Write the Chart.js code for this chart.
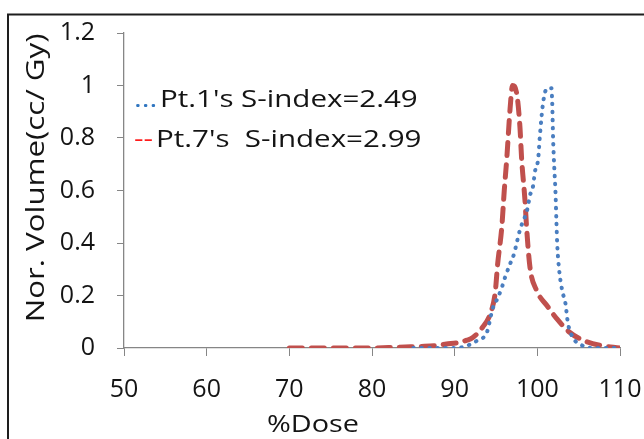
<!DOCTYPE html>
<html>
<head>
<meta charset="utf-8">
<script src="https://cdn.jsdelivr.net/npm/chart.js@4/dist/chart.umd.min.js"></script>
<style>
  html, body { margin: 0; padding: 0; background: #fff; }
  #wrap { width: 644px; height: 439px; }
</style>
</head>
<body>
<div id="wrap"><canvas id="c" width="644" height="439"></canvas></div>
<script>
// Differential dose-volume curves, normalised volume per Gy against % of prescribed dose
const pt1Dose = [85, 88, 90.3, 91.6, 92.8, 93.9, 94.6, 95.2, 95.7, 96.1, 96.7, 97.2, 97.5, 97.9, 98.8, 99.1, 99.5, 99.7, 100.1, 100.3, 100.7, 101.2, 101.7, 101.8, 101.9, 102.0, 102.2, 102.3, 102.4, 102.6, 103.0, 103.4, 103.7, 104.3, 105.4, 106.7, 110];
const pt1Volume = [0, 0, 0, 0.01, 0.03, 0.06, 0.15, 0.19, 0.23, 0.27, 0.32, 0.36, 0.40, 0.45, 0.53, 0.58, 0.62, 0.67, 0.72, 0.805, 0.935, 0.99, 0.99, 0.935, 0.805, 0.72, 0.59, 0.49, 0.40, 0.31, 0.22, 0.17, 0.095, 0.04, 0.01, 0, 0];

const pt7Dose = [70, 72, 74, 76, 78, 80, 82, 84, 86, 88, 89, 90.3, 91.5, 92.2, 93.4, 94.3, 94.9, 95.2, 95.7, 96.0, 96.3, 96.7, 97.0, 97.5, 97.9, 98.1, 98.5, 98.7, 99.1, 99.9, 101.2, 102.4, 103.9, 105.5, 107.6, 110];
const pt7Volume = [0, 0, 0, 0, 0, 0, 0.002, 0.004, 0.006, 0.01, 0.015, 0.02, 0.03, 0.04, 0.08, 0.13, 0.21, 0.32, 0.46, 0.60, 0.72, 0.91, 1.0, 0.97, 0.84, 0.72, 0.565, 0.46, 0.31, 0.22, 0.16, 0.11, 0.06, 0.03, 0.01, 0];

const seriesLabels = ["Pt.1's S-index=2.49", "Pt.7's  S-index=2.99"];
const xTicks = [50, 60, 70, 80, 90, 100, 110];
const yTicks = [0, 0.2, 0.4, 0.6, 0.8, 1, 1.2];
const xTitle = '%Dose';
const yTitle = 'Nor. Volume(cc/ Gy)';

const FONT = "'Open Sans', Lato, sans-serif";
const AXIS_GREY = '#868686';
const TEXT = '#141414';

function toPoints(xs, ys) {
  return xs.map((x, i) => ({ x: x, y: ys[i] }));
}

// Text drawn with a horizontal stretch along its baseline (wide-set lettering)
function stretchedText(ctx, str, x, y, sx, angle) {
  ctx.save();
  ctx.translate(x, y);
  if (angle) ctx.rotate(angle);
  ctx.scale(sx, 1);
  ctx.fillText(str, 0, 0);
  ctx.restore();
}

// Outer frame and white background
const framePlugin = {
  id: 'frame',
  beforeDraw(chart) {
    const ctx = chart.ctx;
    ctx.save();
    ctx.fillStyle = '#fff';
    ctx.fillRect(0, 0, chart.width, chart.height);
    ctx.strokeStyle = '#1e1e1e';
    ctx.lineWidth = 2;
    ctx.beginPath();
    ctx.moveTo(8, chart.height + 5);
    ctx.lineTo(8, 14.5);
    ctx.lineTo(chart.width + 5, 14.5);
    ctx.stroke();
    ctx.restore();
  }
};

// Axis titles and the in-plot legend (line-style glyphs followed by series text)
const annotations = {
  id: 'annotations',
  afterDraw(chart) {
    const ctx = chart.ctx;
    ctx.save();
    ctx.fillStyle = TEXT;
    ctx.textAlign = 'center';
    ctx.textBaseline = 'middle';
    ctx.font = '24px ' + FONT;
    stretchedText(ctx, xTitle, 313, 425, 1.2, 0);
    ctx.font = '25px ' + FONT;
    stretchedText(ctx, yTitle, 37, 178, 1.25, -Math.PI / 2);
    ctx.restore();

    const rows = [
      { mark: '...', color: '#2f75c0', text: seriesLabels[0], x: 134, tx: 160, y: 100 },
      { mark: '--', color: '#ff1a1a', text: seriesLabels[1], x: 134, tx: 156, y: 140 }
    ];
    ctx.save();
    ctx.font = '24px ' + FONT;
    ctx.textBaseline = 'middle';
    ctx.textAlign = 'left';
    rows.forEach(r => {
      ctx.fillStyle = r.color;
      stretchedText(ctx, r.mark, r.x, r.y, 1.23, 0);
      ctx.fillStyle = TEXT;
      stretchedText(ctx, r.text, r.tx, r.y, 1.23, 0);
    });
    ctx.restore();
  }
};

new Chart(document.getElementById('c'), {
  type: 'line',
  data: {
    datasets: [
      {
        label: seriesLabels[0],
        data: toPoints(pt1Dose, pt1Volume),
        borderColor: '#4a7ec0',
        borderWidth: 4,
        borderDash: [0.5, 7.5],
        borderCapStyle: 'round',
        pointRadius: 0,
        cubicInterpolationMode: 'monotone',
        fill: false
      },
      {
        label: seriesLabels[1],
        data: toPoints(pt7Dose, pt7Volume),
        borderColor: '#c0504d',
        borderWidth: 5,
        borderDash: [13, 9],
        borderCapStyle: 'round',
        pointRadius: 0,
        cubicInterpolationMode: 'monotone',
        fill: false
      }
    ]
  },
  options: {
    responsive: false,
    animation: false,
    layout: { padding: { left: 10, right: 24, top: 33, bottom: 0 } },
    plugins: {
      legend: { display: false },
      tooltip: { enabled: false }
    },
    scales: {
      x: {
        type: 'linear',
        min: xTicks[0],
        max: xTicks[xTicks.length - 1],
        afterBuildTicks(scale) { scale.ticks = xTicks.map(v => ({ value: v })); },
        afterFit(scale) {
          scale.height = 91;
          scale.paddingLeft = 0;
          scale.paddingRight = 0;
        },
        grid: { display: true, drawOnChartArea: false, drawTicks: true, tickLength: 8, color: AXIS_GREY },
        border: { display: true, color: AXIS_GREY, width: 1.3 },
        ticks: { color: TEXT, font: { family: FONT, size: 25 }, padding: 19, maxRotation: 0 }
      },
      y: {
        min: yTicks[0],
        max: yTicks[yTicks.length - 1],
        afterBuildTicks(scale) { scale.ticks = yTicks.map(v => ({ value: v })); },
        afterFit(scale) {
          scale.width = 114;
          scale.paddingTop = 0;
          scale.paddingBottom = 0;
        },
        grid: { display: true, drawOnChartArea: false, drawTicks: true, tickLength: 7, color: AXIS_GREY },
        border: { display: true, color: AXIS_GREY, width: 1.3 },
        ticks: { color: TEXT, font: { family: FONT, size: 25 }, padding: 22, callback: v => String(+v.toFixed(1)) }
      }
    }
  },
  plugins: [framePlugin, annotations]
});
</script>
</body>
</html>
